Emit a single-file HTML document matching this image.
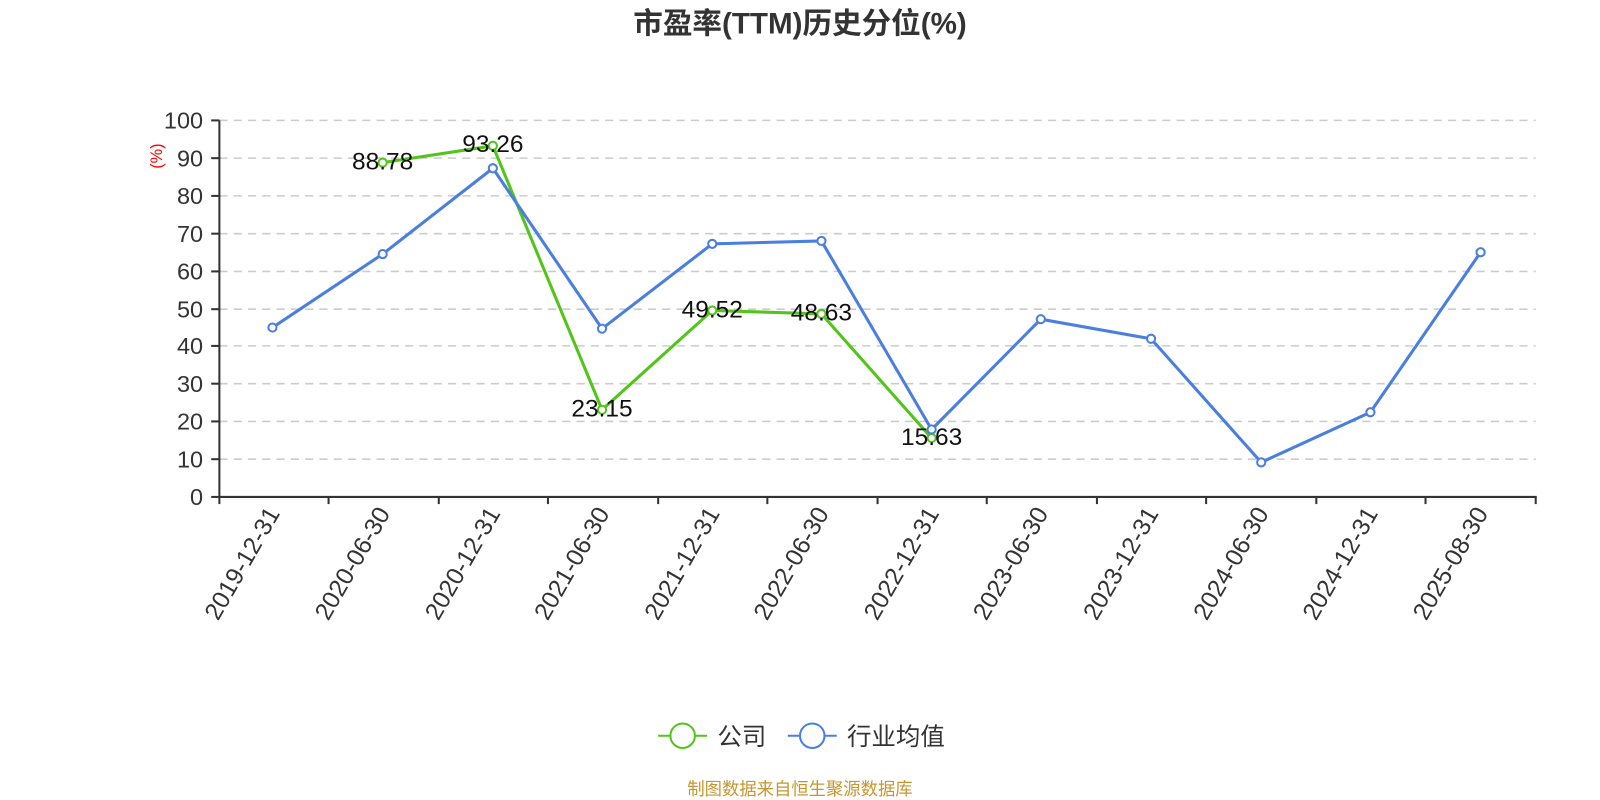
<!DOCTYPE html>
<html><head><meta charset="utf-8"><style>body{margin:0;background:#fff}svg{display:block}</style></head><body>
<svg width="1600" height="800" viewBox="0 0 1568 784" xmlns="http://www.w3.org/2000/svg" font-family="'Liberation Sans','Noto Sans CJK SC',sans-serif">
<text x="784" y="33" text-anchor="middle" font-size="29" font-weight="bold" fill="#333">市盈率(TTM)历史分位(%)</text>
<g stroke="#ccc" stroke-width="1.5" stroke-dasharray="8,6">
<line x1="215" x2="1505" y1="118" y2="118"/><line x1="215" x2="1505" y1="155" y2="155"/><line x1="215" x2="1505" y1="192" y2="192"/><line x1="215" x2="1505" y1="229" y2="229"/><line x1="215" x2="1505" y1="266" y2="266"/><line x1="215" x2="1505" y1="303" y2="303"/><line x1="215" x2="1505" y1="339" y2="339"/><line x1="215" x2="1505" y1="376" y2="376"/><line x1="215" x2="1505" y1="413" y2="413"/><line x1="215" x2="1505" y1="450" y2="450"/>
</g>
<g stroke="#333" stroke-width="2">
<line x1="215" x2="215" y1="118" y2="488"/><line x1="214" x2="1506" y1="487" y2="487"/>
<line x1="207" x2="215" y1="118" y2="118"/><line x1="207" x2="215" y1="155" y2="155"/><line x1="207" x2="215" y1="192" y2="192"/><line x1="207" x2="215" y1="229" y2="229"/><line x1="207" x2="215" y1="266" y2="266"/><line x1="207" x2="215" y1="303" y2="303"/><line x1="207" x2="215" y1="339" y2="339"/><line x1="207" x2="215" y1="376" y2="376"/><line x1="207" x2="215" y1="413" y2="413"/><line x1="207" x2="215" y1="450" y2="450"/><line x1="207" x2="215" y1="487" y2="487"/>
<line x1="215" x2="215" y1="487" y2="494"/><line x1="322" x2="322" y1="487" y2="494"/><line x1="430" x2="430" y1="487" y2="494"/><line x1="537" x2="537" y1="487" y2="494"/><line x1="645" x2="645" y1="487" y2="494"/><line x1="752" x2="752" y1="487" y2="494"/><line x1="860" x2="860" y1="487" y2="494"/><line x1="967" x2="967" y1="487" y2="494"/><line x1="1075" x2="1075" y1="487" y2="494"/><line x1="1182" x2="1182" y1="487" y2="494"/><line x1="1290" x2="1290" y1="487" y2="494"/><line x1="1397" x2="1397" y1="487" y2="494"/><line x1="1505" x2="1505" y1="487" y2="494"/>
</g>
<g font-size="23" fill="#333" text-anchor="end">
<text x="199" y="126">100</text><text x="199" y="163">90</text><text x="199" y="200">80</text><text x="199" y="237">70</text><text x="199" y="274">60</text><text x="199" y="311">50</text><text x="199" y="347">40</text><text x="199" y="384">30</text><text x="199" y="421">20</text><text x="199" y="458">10</text><text x="199" y="495">0</text>
</g>
<text transform="translate(159,153) rotate(-90)" text-anchor="middle" font-size="16" fill="#f00">(%)</text>
<g font-size="24" fill="#333" text-anchor="end">
<text transform="translate(275,503) rotate(-60)">2019-12-31</text>
<text transform="translate(383,503) rotate(-60)">2020-06-30</text>
<text transform="translate(491,503) rotate(-60)">2020-12-31</text>
<text transform="translate(598,503) rotate(-60)">2021-06-30</text>
<text transform="translate(706,503) rotate(-60)">2021-12-31</text>
<text transform="translate(813,503) rotate(-60)">2022-06-30</text>
<text transform="translate(921,503) rotate(-60)">2022-12-31</text>
<text transform="translate(1028,503) rotate(-60)">2023-06-30</text>
<text transform="translate(1136,503) rotate(-60)">2023-12-31</text>
<text transform="translate(1244,503) rotate(-60)">2024-06-30</text>
<text transform="translate(1351,503) rotate(-60)">2024-12-31</text>
<text transform="translate(1459,503) rotate(-60)">2025-08-30</text>
</g>
<polyline fill="none" stroke="#52c41a" stroke-width="3" points="375,159.4 483,142.9 590,401.6 698,304.3 805,307.6 913,429.3"/>
<g fill="#fff" stroke="#52c41a" stroke-width="2">
<circle cx="375" cy="159.4" r="4"/><circle cx="483" cy="142.9" r="4"/><circle cx="590" cy="401.6" r="4"/><circle cx="698" cy="304.3" r="4"/><circle cx="805" cy="307.6" r="4"/><circle cx="913" cy="429.3" r="4"/>
</g>
<polyline fill="none" stroke="#4a7fe0" stroke-width="3" points="267,321 375,249 483,164.9 590,322.1 698,239 805,236.1 913,420.9 1020,312.8 1128,332 1236,453.1 1343,404 1451,247.2"/>
<g fill="#fff" stroke="#4a7fe0" stroke-width="2">
<circle cx="267" cy="321" r="4"/><circle cx="375" cy="249" r="4"/><circle cx="483" cy="164.9" r="4"/><circle cx="590" cy="322.1" r="4"/><circle cx="698" cy="239" r="4"/><circle cx="805" cy="236.1" r="4"/><circle cx="913" cy="420.9" r="4"/><circle cx="1020" cy="312.8" r="4"/><circle cx="1128" cy="332" r="4"/><circle cx="1236" cy="453.1" r="4"/><circle cx="1343" cy="404" r="4"/><circle cx="1451" cy="247.2" r="4"/>
</g>
<g font-size="24" fill="#111" text-anchor="middle">
<text x="375" y="166">88.78</text><text x="483" y="149">93.26</text><text x="590" y="408">23.15</text><text x="698" y="311">49.52</text><text x="805" y="314">48.63</text><text x="913" y="436">15.63</text>
</g>
<line x1="645" x2="693" y1="721" y2="721" stroke="#52c41a" stroke-width="2"/>
<circle cx="669" cy="721" r="12" fill="#fff" stroke="#52c41a" stroke-width="2"/>
<text x="703" y="730" font-size="24" fill="#333">公司</text>
<line x1="772" x2="820" y1="721" y2="721" stroke="#4a7fe0" stroke-width="2"/>
<circle cx="796" cy="721" r="12" fill="#fff" stroke="#4a7fe0" stroke-width="2"/>
<text x="830" y="730" font-size="24" fill="#333">行业均值</text>
<text x="784" y="779" text-anchor="middle" font-size="17" fill="#c8962e">制图数据来自恒生聚源数据库</text>
</svg>
</body></html>
